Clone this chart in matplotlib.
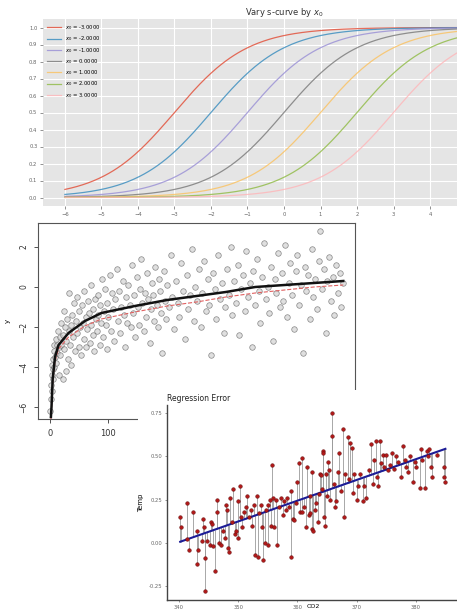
#!/usr/bin/env python3

import numpy as np
from matplotlib import pyplot as plt
from matplotlib.patches import Rectangle

W, H = 457, 613

# --- top panel: logistic curves shifted by x0
shifts = [-3.0, -2.0, -1.0, 0.0, 1.0, 2.0, 3.0]
shift_colors = ['#E24A33', '#348ABD', '#988ED5', '#777777', '#FBC15E', '#8EBA42', '#FFB5B8']
top_xticks = list(range(-6, 5))
top_yticks = [0.0, 0.1, 0.2, 0.3, 0.4, 0.5, 0.6, 0.7, 0.8, 0.9, 1.0]

# --- middle panel: scatter with log-like fit
scat_x = [1, 2, 2, 3, 4, 4, 5, 6, 6, 7, 8, 8, 9, 10, 11, 12, 13, 14, 15, 16, 17, 18, 19, 20,
          22, 23, 24, 25, 26, 27, 28, 30, 31, 32, 33, 35, 36, 37, 38, 40, 41, 43, 44, 46, 47, 49,
          50, 52, 53, 55, 56, 58, 59, 61, 62, 64, 65, 67, 68, 70, 71, 73, 74, 76, 77, 79, 80, 82,
          83, 85, 86, 88, 89, 91, 92, 94, 95, 97, 98,
          100, 102, 104, 106, 108, 110, 112, 114, 116, 118, 120, 122, 124, 126, 128, 130, 132, 134,
          136, 138, 140, 142, 144, 146, 148, 150, 152, 154, 156, 158, 160, 162, 164, 166, 168, 170,
          172, 174, 176, 178, 180, 182, 184, 186, 188, 190, 192, 194, 196, 198,
          200, 203, 206, 209, 212, 215, 218, 221, 224, 227, 230, 233, 236, 239, 242, 245, 248, 251,
          254, 257, 260, 263, 266, 269, 272, 275, 278, 281, 284, 287, 290, 293, 296, 299,
          302, 305, 308, 311, 314, 317, 320, 323, 326, 329, 332, 335, 338, 341, 344, 347, 350, 353,
          356, 359, 362, 365, 368, 371, 374, 377, 380, 383, 386, 389, 392, 395, 398, 401, 404, 407,
          410, 413, 416, 419, 422, 425, 428, 431, 434, 437, 440, 443, 446, 449, 452, 455, 458, 461,
          464, 467, 470, 473, 476, 479, 482, 485, 488, 491, 494, 497, 500]
scat_y = [-6.2, -5.6, -4.9, -5.2, -4.4, -3.9, -4.6, -3.6, -4.1, -3.2, -4.0, -2.9, -3.5, -2.6, -3.8,
          -2.9, -3.3, -2.2, -3.0, -4.4, -2.5, -3.4, -1.8, -2.9,
          -2.4, -4.6, -1.2, -3.1, -2.0, -4.2, -2.7, -1.6, -3.6, -2.2, -0.3, -2.9, -1.9, -3.9, -1.4,
          -2.5, -0.8, -3.2, -1.7, -2.3, -0.5, -3.0, -1.2, -2.0, -3.4, -0.9, -1.8, -2.6, -0.2, -1.5,
          -3.0, -2.1, -0.7, -1.3, -2.8, -1.9, 0.1, -1.1, -2.4, -3.2, -0.6, -1.6, -2.2, -0.4, -1.4,
          -2.9, -0.9, -1.8, 0.4, -2.5, -1.2, -0.1, -1.9, -3.1, -0.8,
          -1.5, 0.6, -2.2, -0.3, -1.1, -2.7, -0.6, 0.9, -1.7, -0.2, -2.3, -1.0, 0.3, -1.4, -3.0, -0.5,
          -1.8, 0.1, -0.9, -2.0, 1.1, -1.3, -0.4, -2.5, 0.5, -1.0, -1.9, -0.1, 1.4, -0.8, -2.2, -0.3,
          -1.5, 0.7, -0.6, -2.8, -1.1, 0.2, -0.4, -1.7, 1.0, -0.9, -2.0, 0.4, -0.2, -1.3, -3.3, 0.8,
          -0.7, -1.6,
          0.1, -1.0, 1.6, -0.5, -2.1, 0.3, -0.8, -1.5, 1.2, -0.2, -2.6, 0.6, -1.1, -0.4, 1.9, -1.7,
          0.0, -0.7, 0.9, -2.0, -0.3, 1.3, -1.2, 0.4, -0.9, -3.4, 0.7, -0.1, -1.6, 1.6, -0.6, 0.2,
          -2.3, -1.0,
          0.9, -0.4, 2.0, -1.4, 0.3, -0.8, 1.1, -2.4, -0.1, 0.6, -1.2, 1.8, -0.5, 0.2, -3.0, 0.8,
          -0.9, 1.4, -0.2, -1.8, 0.5, 2.2, -0.6, 0.0, -1.3, 1.0, -2.7, 0.4, -0.3, 1.7, -1.0, 0.7,
          -0.7, 2.1, -1.5, 0.2, 1.2, -0.4, -2.1, 0.8, 1.6, -0.9, 0.1, -3.3, 1.0, -0.2, 0.6, -1.6,
          1.9, -0.5, 0.4, -1.1, 1.3, 2.8, -0.1, 0.9, -2.3, 0.3, 1.5, -0.7, 0.5, -1.4, 1.1, -0.3,
          0.7, -1.0, 0.2]
fit_x = [2, 3, 5, 9, 15, 32, 60, 88, 145, 200, 250, 300, 350, 400, 450, 500]
fit_y = [-6.5, -6.0, -4.6, -3.5, -2.9, -2.3, -1.7, -1.3, -0.95, -0.65, -0.45, -0.25, 0.0, 0.1, 0.2, 0.3]
true_y = [-6.6, -6.1, -4.8, -3.7, -3.1, -2.5, -1.95, -1.6, -1.25, -0.95, -0.75, -0.5, -0.3, -0.15, 0.0, 0.1]

# --- bottom panel: CO2 vs Temp regression
co2 = [340.2, 340.3, 341.4, 341.4, 341.7, 342.3, 343.0, 343.1, 343.2, 343.8, 344.0, 344.2, 344.4,
       344.4, 344.8, 345.2, 345.4, 345.5, 345.8, 346.1, 346.4, 346.5, 346.8, 347.1, 347.4, 347.7,
       347.9, 348.1, 348.2, 348.5, 348.6, 348.9, 349.2, 349.4, 349.7, 349.9, 350.0, 350.3, 350.5,
       350.6, 351.0, 351.3, 351.5, 351.8, 352.1, 352.4, 352.7, 352.9, 353.1, 353.3, 353.5, 353.8,
       354.0, 354.2, 354.5, 354.7, 355.0, 355.1, 355.4, 355.6, 355.7, 355.9, 356.0, 356.3, 356.6,
       356.9, 357.2, 357.5, 357.8, 358.1, 358.3, 358.6, 358.9, 359.0, 359.3, 359.4, 359.7, 360.0,
       360.2, 360.5, 360.8, 360.8, 361.1, 361.4, 361.7, 361.9, 362.2, 362.2, 362.4, 362.5, 362.7,
       363.0, 363.1, 363.4, 363.6, 363.9, 364.0, 364.2, 364.3, 364.4, 364.5, 364.6, 364.8, 365.0,
       365.1, 365.3, 365.5, 365.9, 365.9, 366.1, 366.3, 366.6, 366.8, 367.1, 367.4, 367.7, 367.8,
       368.1, 368.5, 368.7, 368.9, 369.3, 369.4, 369.6, 370.0, 370.2, 370.5, 371.0, 371.2, 371.6,
       372.1, 372.4, 372.7, 372.9, 373.2, 373.4, 373.7, 374.0, 374.1, 374.4, 374.7, 375.0, 375.3,
       375.6, 376.0, 376.4, 376.7, 377.0, 377.5, 377.8, 378.1, 378.4, 378.7, 379.0, 379.6, 379.8,
       380.1, 380.7, 380.8, 381.0, 381.5, 381.9, 382.1, 382.3, 382.6, 382.8, 383.5, 384.8, 384.8,
       385.0]
temp = [0.15, 0.09, 0.23, 0.02, -0.04, 0.18, 0.07, -0.12, -0.04, 0.01, 0.14, 0.09, -0.28,
        -0.09, 0.01, -0.01, 0.12, 0.11, -0.02, -0.16, 0.25, 0.18, 0.0, -0.01, 0.07, 0.03,
        0.22, 0.19, -0.03, -0.05, 0.26, 0.12, 0.31, 0.05, 0.07, 0.24, 0.03, 0.33, 0.15,
        0.09, 0.18, 0.21, 0.27, 0.15, 0.19, 0.10, 0.22, -0.07, 0.27, -0.08, 0.17, 0.22,
        0.09, -0.10, 0.0, 0.19, 0.22, -0.01, 0.25, 0.10, 0.45, 0.26, 0.09, 0.25, -0.01,
        0.21, 0.26, 0.16, 0.24, 0.19, 0.26, 0.21, 0.30, -0.08, 0.14, 0.13, 0.23, 0.35,
        0.46, 0.18, 0.49, 0.18, 0.21, 0.09, 0.44, 0.16, 0.27, 0.17, 0.08, 0.41, 0.07,
        0.19, 0.23, 0.12, 0.28, 0.40, 0.39, 0.31, 0.53, 0.52, 0.15, 0.10, 0.40, 0.27,
        0.47, 0.42, 0.25, 0.75, 0.62, 0.34, 0.21, 0.24, 0.41, 0.52, 0.30, 0.66, 0.15,
        0.40, 0.61, 0.37, 0.58, 0.55, 0.29, 0.40, 0.25, 0.33, 0.40, 0.24, 0.33, 0.26,
        0.42, 0.57, 0.34, 0.48, 0.59, 0.38, 0.33, 0.59, 0.46, 0.51, 0.44, 0.51, 0.42,
        0.45, 0.52, 0.43, 0.50, 0.47, 0.38, 0.56, 0.48, 0.44, 0.41, 0.50, 0.35, 0.47,
        0.44, 0.32, 0.54, 0.48, 0.32, 0.53, 0.50, 0.54, 0.44, 0.38, 0.51, 0.44, 0.38,
        0.35]

fig = plt.figure(figsize=(W / 100, H / 100), dpi=100)

# top panel (cropped on the right like the source)
ax1 = fig.add_axes([43 / W, 1 - 206 / H, 482 / W, 187 / H])
ax1.set_facecolor('#E5E5E5')
for s in ax1.spines.values():
    s.set_visible(False)
ax1.grid(color='white', lw=0.8)
ax1.set_axisbelow(True)
xs = np.linspace(-6, 6, 400)
for x0, c in zip(shifts, shift_colors):
    ax1.plot(xs, 1 / (1 + np.exp(-(xs - x0))), color=c, lw=0.9, alpha=0.8,
             label=f'$x_0$ = {x0:.4f}')
ax1.set_xlim(-6.6, 6.6)
ax1.set_ylim(-0.05, 1.05)
ax1.set_xticks(top_xticks)
ax1.set_yticks(top_yticks)
ax1.set_yticklabels([f'{v:.1f}' for v in top_yticks])
ax1.tick_params(labelsize=3.8, colors='#666666', length=2, width=0.5, pad=2)
ax1.set_title('Vary s-curve by $x_0$', fontsize=6, color='#333333', pad=3)
ax1.legend(loc='upper left', fontsize=3.8, frameon=False, handlelength=2.6,
           labelspacing=0.45, borderaxespad=0.4)

# middle panel, R style
ax2 = fig.add_axes([38 / W, 1 - 419 / H, 317 / W, 196 / H])
ax2.scatter(scat_x, scat_y, s=16, facecolors='#cfcfcf', edgecolors='#505050',
            linewidths=0.5, alpha=0.65, zorder=2)
ax2.plot(fit_x, true_y, color='#e06060', lw=0.8, ls='--', zorder=3)
ax2.plot(fit_x, fit_y, color='#111111', lw=1.8, zorder=4)
ax2.set_xlim(-20, 520)
ax2.set_ylim(-6.6, 3.2)
ax2.set_xticks([0, 100, 200, 300, 400, 500])
ax2.set_yticks([-6, -4, -2, 0, 2])
for lab in ax2.get_yticklabels():
    lab.set_rotation(90)
    lab.set_va('center')
ax2.tick_params(labelsize=5.5, colors='#333333', length=3, width=0.6, pad=4)
ax2.tick_params(axis='x', labelsize=6)
for s in ax2.spines.values():
    s.set_color('#555555')
    s.set_linewidth(0.8)
ax2.set_ylabel('y', fontsize=5, labelpad=6)

# bottom panel sits on a white card over the middle one
fig.add_artist(Rectangle((138 / W, 0), 319 / W, 223 / H, transform=fig.transFigure,
                         facecolor='white', edgecolor='none', zorder=1))
ax3 = fig.add_axes([167 / W, 1 - 600 / H, 292 / W, 195 / H], zorder=2)
co2_arr = np.array(co2)
slope, icpt = np.polyfit(co2_arr, temp, 1)
fitted = icpt + slope * co2_arr
ax3.vlines(co2_arr, fitted, temp, color='#9a9a9a', lw=0.6, zorder=1)
ends = np.array([co2_arr.min(), co2_arr.max()])
ax3.plot(ends, icpt + slope * ends, color='#1c1c96', lw=1.5, zorder=2)
ax3.scatter(co2, temp, s=7, facecolors='#b01818', edgecolors='#5a0a0a', linewidths=0.3, zorder=3)
ax3.set_xlim(337.97, 387.3)
ax3.set_ylim(-0.33, 0.797)
ax3.set_xticks([340, 350, 360, 370, 380])
ax3.set_yticks([-0.25, 0.0, 0.25, 0.5, 0.75])
ax3.set_yticklabels(['-0.25', '0.00', '0.25', '0.50', '0.75'])
ax3.tick_params(labelsize=3.8, colors='#666666', length=1.5, width=0.5, pad=2)
for side in ['top', 'right']:
    ax3.spines[side].set_visible(False)
for side in ['left', 'bottom']:
    ax3.spines[side].set_color('#444444')
    ax3.spines[side].set_linewidth(1.0)
ax3.set_title('Regression Error', loc='left', fontsize=5.5, pad=3, color='#222222')
ax3.set_ylabel('Temp', fontsize=5, labelpad=3)
ax3.set_xlabel('CO2', fontsize=4.5)
ax3.xaxis.set_label_coords(0.5, -0.018)

fig.savefig('out.png', dpi=100)
